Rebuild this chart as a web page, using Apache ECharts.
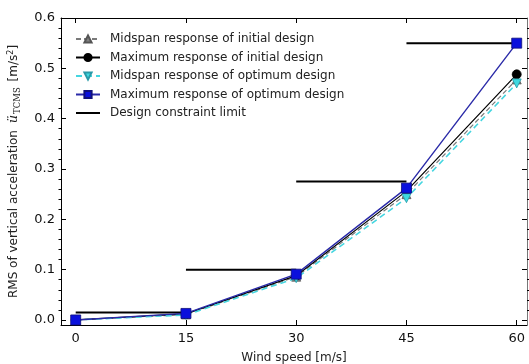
<!DOCTYPE html>
<html>
<head>
<meta charset="utf-8">
<script src="https://cdn.jsdelivr.net/npm/echarts@6/dist/echarts.min.js"></script>
<style>
  html, body { margin: 0; padding: 0; background: #fff; }
  #chart { width: 529px; height: 364px; }
</style>
</head>
<body>
<div id="chart"></div>
<script>
// Wind speeds at which the bridge response was evaluated [m/s]
const windSpeeds = [0, 15, 30, 45, 60];

// RMS vertical acceleration [m/s^2]
const midspanInitial = [0, 0.011, 0.086, 0.250, 0.478];
const maximumInitial = [0, 0.012, 0.088, 0.256, 0.488];
const midspanOptimum = [0, 0.010, 0.083, 0.242, 0.470];
const maximumOptimum = [0, 0.013, 0.091, 0.262, 0.550];

// Design constraint limit, one step per wind-speed band
const limitFrom = [0, 15, 30, 45];
const limitTo = [15, 30, 45, 60];
const limitValues = [0.015, 0.100, 0.275, 0.550];

// Axis ticks
const xTicks = [0, 15, 30, 45, 60];
const yTicks = [0.0, 0.1, 0.2, 0.3, 0.4, 0.5, 0.6];
const yMinorTicks = [0.02, 0.04, 0.06, 0.08, 0.12, 0.14, 0.16, 0.18, 0.22, 0.24, 0.26, 0.28,
                     0.32, 0.34, 0.36, 0.38, 0.42, 0.44, 0.46, 0.48, 0.52, 0.54, 0.56, 0.58];

const FONT = 'DejaVu Sans';
const X_MIN = -2, X_MAX = 61.4, Y_MIN = -0.01, Y_MAX = 0.6;
const gridBox = { left: 61, right: 2, top: 18, bottom: 39, containLabel: false, outerBoundsMode: 'none' };

const pairs = (ys) => windSpeeds.map((x, i) => [x, ys[i]]);

// Step segments separated by gaps so each band is its own horizontal bar
const limitData = [];
limitValues.forEach((v, i) => {
  if (i > 0) limitData.push([limitFrom[i], '-']);
  limitData.push([limitFrom[i], v], [limitTo[i], v]);
});

const axisLineStyle = { color: '#000', width: 1 };

const chart = echarts.init(document.getElementById('chart'), null, { renderer: 'canvas' });

chart.setOption({
  animation: false,
  backgroundColor: '#fff',
  grid: [Object.assign({}, gridBox), Object.assign({}, gridBox)],
  legend: {
    orient: 'vertical',
    left: 70,
    top: 28,
    itemWidth: 24,
    itemHeight: 9,
    itemGap: 6.5,
    textStyle: { fontFamily: FONT, fontSize: 12, color: '#222', padding: [0, 0, 0, 5] },
    data: [
      'Midspan response of initial design',
      'Maximum response of initial design',
      'Midspan response of optimum design',
      'Maximum response of optimum design',
      { name: 'Design constraint limit', icon: 'path://M0,0 L24,0 L24,2 L0,2 Z' }
    ]
  },
  xAxis: [
    {
      type: 'value', gridIndex: 0, position: 'bottom', min: X_MIN, max: X_MAX,
      name: 'Wind speed [m/s]', nameLocation: 'middle', nameGap: 27,
      nameTextStyle: { fontFamily: FONT, fontSize: 12, color: '#222' },
      axisLine: { show: true, onZero: false, lineStyle: axisLineStyle },
      axisTick: { show: true, inside: true, length: 5, customValues: xTicks, lineStyle: axisLineStyle },
      axisLabel: { customValues: xTicks, fontFamily: FONT, fontSize: 13, color: '#111', margin: 7 },
      splitLine: { show: false }
    },
    {
      type: 'value', gridIndex: 0, position: 'top', min: X_MIN, max: X_MAX,
      axisLine: { show: true, onZero: false, lineStyle: axisLineStyle },
      axisTick: { show: true, inside: true, length: 5, customValues: xTicks, lineStyle: axisLineStyle },
      axisLabel: { show: false },
      splitLine: { show: false }
    },
    {
      type: 'value', gridIndex: 1, show: false, min: X_MIN, max: X_MAX
    }
  ],
  yAxis: [
    {
      type: 'value', gridIndex: 0, position: 'left', min: Y_MIN, max: Y_MAX,
      name: '{t|RMS of vertical acceleration }{u|ü}{s|TCMS}{t| [m/s}{p|2}{t|]}',
      nameLocation: 'middle', nameGap: 39,
      nameTextStyle: {
        fontFamily: FONT, fontSize: 12, color: '#222',
        rich: {
          t: { fontFamily: FONT, fontSize: 12, color: '#222' },
          u: { fontFamily: 'DejaVu Serif', fontStyle: 'italic', fontSize: 13, color: '#222', padding: [0, 1, 0, 3] },
          s: { fontFamily: 'DejaVu Serif', fontSize: 8.5, color: '#222', padding: [7, 2, 0, 0] },
          p: { fontFamily: FONT, fontSize: 8, color: '#222', padding: [0, 0, 6, 0] }
        }
      },
      axisLine: { show: true, onZero: false, lineStyle: axisLineStyle },
      axisTick: { show: true, inside: true, length: 5, customValues: yTicks, lineStyle: axisLineStyle },
      axisLabel: {
        customValues: yTicks, fontFamily: FONT, fontSize: 13, color: '#111', margin: 6,
        formatter: (v) => v.toFixed(1)
      },
      splitLine: { show: false }
    },
    {
      type: 'value', gridIndex: 0, position: 'right', min: Y_MIN, max: Y_MAX,
      axisLine: { show: true, onZero: false, lineStyle: { color: '#777', width: 1 } },
      axisTick: { show: true, inside: true, length: 5, customValues: yTicks, lineStyle: axisLineStyle },
      axisLabel: { show: false },
      splitLine: { show: false }
    },
    {
      type: 'value', gridIndex: 1, position: 'left', min: Y_MIN, max: Y_MAX,
      axisLine: { show: true, onZero: false, lineStyle: { color: 'rgba(0,0,0,0)' } },
      axisTick: { show: true, inside: false, length: 2.5, customValues: yMinorTicks, lineStyle: axisLineStyle },
      axisLabel: { show: false },
      splitLine: { show: false }
    },
    {
      type: 'value', gridIndex: 1, position: 'right', min: Y_MIN, max: Y_MAX,
      axisLine: { show: true, onZero: false, lineStyle: { color: 'rgba(0,0,0,0)' } },
      axisTick: { show: true, inside: false, length: 2.5, customValues: yMinorTicks, lineStyle: axisLineStyle },
      axisLabel: { show: false },
      splitLine: { show: false }
    }
  ],
  series: [
    {
      name: 'Midspan response of initial design',
      type: 'line', xAxisIndex: 0, yAxisIndex: 0, z: 3,
      data: pairs(midspanInitial),
      symbol: 'triangle', symbolSize: 9,
      lineStyle: { color: '#7a7a7a', width: 1.2, type: [5, 3] },
      itemStyle: { color: '#808080', borderColor: '#555', borderWidth: 0.8 }
    },
    {
      name: 'Maximum response of initial design',
      type: 'line', xAxisIndex: 0, yAxisIndex: 0, z: 4,
      data: pairs(maximumInitial),
      symbol: 'circle', symbolSize: 9,
      lineStyle: { color: '#000', width: 1.2 },
      itemStyle: { color: '#000', borderColor: '#000', borderWidth: 0.8 }
    },
    {
      name: 'Midspan response of optimum design',
      type: 'line', xAxisIndex: 0, yAxisIndex: 0, z: 5,
      data: pairs(midspanOptimum),
      symbol: 'triangle', symbolRotate: 180, symbolSize: 9,
      lineStyle: { color: '#45d6e0', width: 1.6, type: [6, 4] },
      itemStyle: { color: '#3fd9e0', borderColor: '#2a9aa8', borderWidth: 0.8 }
    },
    {
      name: 'Maximum response of optimum design',
      type: 'line', xAxisIndex: 0, yAxisIndex: 0, z: 6,
      data: pairs(maximumOptimum),
      symbol: 'rect', symbolSize: 10,
      lineStyle: { color: '#2a2aa8', width: 1.4 },
      itemStyle: { color: '#0a10dc', borderColor: '#10107a', borderWidth: 0.8 }
    },
    {
      name: 'Design constraint limit',
      type: 'line', xAxisIndex: 0, yAxisIndex: 0, z: 2,
      data: limitData,
      connectNulls: false,
      symbol: 'none',
      lineStyle: { color: '#000', width: 2 },
      itemStyle: { color: '#000' }
    }
  ]
});
</script>
</body>
</html>
